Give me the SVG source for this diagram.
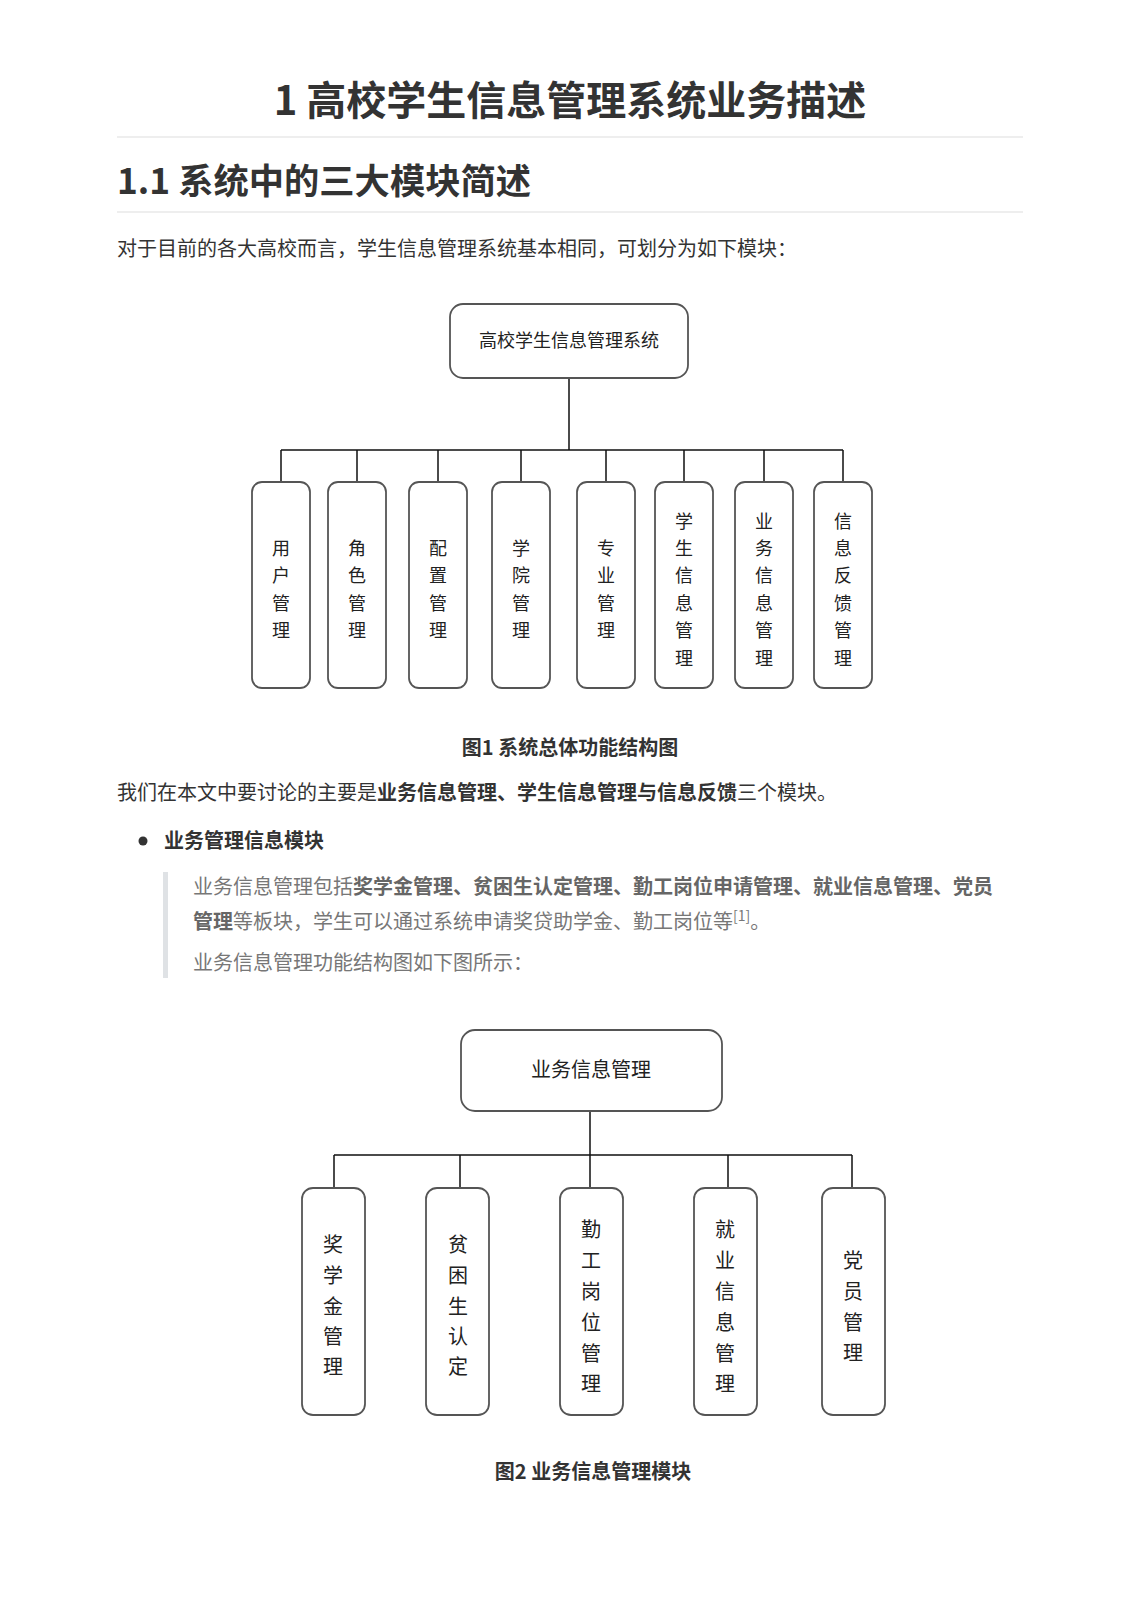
<svg xmlns="http://www.w3.org/2000/svg" width="1140" height="1614" viewBox="0 0 1140 1614">
<style>
text{font-family:"Noto Sans CJK SC","Noto Sans",sans-serif;}
.h1{font-size:40px;font-weight:700;fill:#333;}
.h2{font-size:35.3px;font-weight:700;fill:#333;}
.p{font-size:20px;fill:#333;}
.b{font-weight:700;}
.cap{font-size:20px;font-weight:700;fill:#333;}
.q{font-size:20px;fill:#777;}
.qb{font-weight:700;fill:#666;}
.hr{stroke:#eeeeee;stroke-width:2;}
.box{fill:#fff;stroke:#555;stroke-width:1.8;}
.bt{font-size:18px;fill:#222;text-anchor:middle;}
.bt2{font-size:20px;fill:#222;text-anchor:middle;}
.con{stroke:#111;stroke-width:1.5;fill:none;}
</style>
<rect width="1140" height="1614" fill="#fff"/>
<text class="h1" x="570" y="115" text-anchor="middle">1 高校学生信息管理系统业务描述</text>
<line class="hr" x1="117" y1="137" x2="1023" y2="137"/>
<text class="h2" x="117" y="194">1.1 系统中的三大模块简述</text>
<line class="hr" x1="117" y1="212" x2="1023" y2="212"/>
<text class="p" x="117" y="256">对于目前的各大高校而言，学生信息管理系统基本相同，可划分为如下模块：</text>

<g id="fig1-connectors">
<path class="con" d="M569 378 V450 M281 450 H843 M281 450 V482 M357 450 V482 M438 450 V482 M521 450 V482 M606 450 V482 M684 450 V482 M764 450 V482 M843 450 V482"/>
</g>
<g id="n-root1"><rect class="box" x="450" y="304" width="238" height="74" rx="13"/><text class="bt" x="569" y="347">高校学生信息管理系统</text></g>
<g id="n-yonghu"><rect class="box" x="252" y="482" width="58" height="206" rx="10"/><text class="bt"><tspan x="281" y="555">用</tspan><tspan x="281" y="582">户</tspan><tspan x="281" y="610">管</tspan><tspan x="281" y="637">理</tspan></text></g>
<g id="n-juese"><rect class="box" x="328" y="482" width="58" height="206" rx="10"/><text class="bt"><tspan x="357" y="555">角</tspan><tspan x="357" y="582">色</tspan><tspan x="357" y="610">管</tspan><tspan x="357" y="637">理</tspan></text></g>
<g id="n-peizhi"><rect class="box" x="409" y="482" width="58" height="206" rx="10"/><text class="bt"><tspan x="438" y="555">配</tspan><tspan x="438" y="582">置</tspan><tspan x="438" y="610">管</tspan><tspan x="438" y="637">理</tspan></text></g>
<g id="n-xueyuan"><rect class="box" x="492" y="482" width="58" height="206" rx="10"/><text class="bt"><tspan x="521" y="555">学</tspan><tspan x="521" y="582">院</tspan><tspan x="521" y="610">管</tspan><tspan x="521" y="637">理</tspan></text></g>
<g id="n-zhuanye"><rect class="box" x="577" y="482" width="58" height="206" rx="10"/><text class="bt"><tspan x="606" y="555">专</tspan><tspan x="606" y="582">业</tspan><tspan x="606" y="610">管</tspan><tspan x="606" y="637">理</tspan></text></g>
<g id="n-xuesheng"><rect class="box" x="655" y="482" width="58" height="206" rx="10"/><text class="bt"><tspan x="684" y="528">学</tspan><tspan x="684" y="555">生</tspan><tspan x="684" y="582">信</tspan><tspan x="684" y="610">息</tspan><tspan x="684" y="637">管</tspan><tspan x="684" y="665">理</tspan></text></g>
<g id="n-yewu"><rect class="box" x="735" y="482" width="58" height="206" rx="10"/><text class="bt"><tspan x="764" y="528">业</tspan><tspan x="764" y="555">务</tspan><tspan x="764" y="582">信</tspan><tspan x="764" y="610">息</tspan><tspan x="764" y="637">管</tspan><tspan x="764" y="665">理</tspan></text></g>
<g id="n-fankui"><rect class="box" x="814" y="482" width="58" height="206" rx="10"/><text class="bt"><tspan x="843" y="528">信</tspan><tspan x="843" y="555">息</tspan><tspan x="843" y="582">反</tspan><tspan x="843" y="610">馈</tspan><tspan x="843" y="637">管</tspan><tspan x="843" y="665">理</tspan></text></g>

<text class="cap" x="570" y="755" text-anchor="middle">图1 系统总体功能结构图</text>
<text class="p" x="117" y="800">我们在本文中要讨论的主要是<tspan class="b">业务信息管理、学生信息管理与信息反馈</tspan>三个模块。</text>
<circle cx="143" cy="841" r="4.5" fill="#333"/>
<text class="p b" x="164" y="848">业务管理信息模块</text>
<rect x="163" y="872" width="5" height="106" fill="#dfe2e5"/>
<text class="q" x="193" y="894">业务信息管理包括<tspan class="qb">奖学金管理、贫困生认定管理、勤工岗位申请管理、就业信息管理、党员</tspan></text>
<text class="q" x="193" y="929"><tspan class="qb">管理</tspan>等板块，学生可以通过系统申请奖贷助学金、勤工岗位等<tspan font-size="14" dy="-8">[1]</tspan><tspan dy="8">。</tspan></text>
<text class="q" x="193" y="970">业务信息管理功能结构图如下图所示：</text>

<g id="fig2-connectors">
<path class="con" d="M590 1111 V1188 M334 1155 H852 M334 1155 V1188 M460 1155 V1188 M728 1155 V1188 M852 1155 V1188"/>
</g>
<g id="n-root2"><rect class="box" x="461" y="1030" width="261" height="81" rx="14"/><text class="bt2" x="591" y="1077">业务信息管理</text></g>
<g id="n-jiangxuejin"><rect class="box" x="302" y="1188" width="63" height="227" rx="11"/><text class="bt2"><tspan x="333" y="1252">奖</tspan><tspan x="333" y="1283">学</tspan><tspan x="333" y="1314">金</tspan><tspan x="333" y="1344">管</tspan><tspan x="333" y="1374">理</tspan></text></g>
<g id="n-pinkun"><rect class="box" x="426" y="1188" width="63" height="227" rx="11"/><text class="bt2"><tspan x="458" y="1252">贫</tspan><tspan x="458" y="1283">困</tspan><tspan x="458" y="1314">生</tspan><tspan x="458" y="1344">认</tspan><tspan x="458" y="1374">定</tspan></text></g>
<g id="n-qingong"><rect class="box" x="560" y="1188" width="63" height="227" rx="11"/><text class="bt2"><tspan x="591" y="1237">勤</tspan><tspan x="591" y="1268">工</tspan><tspan x="591" y="1299">岗</tspan><tspan x="591" y="1330">位</tspan><tspan x="591" y="1361">管</tspan><tspan x="591" y="1391">理</tspan></text></g>
<g id="n-jiuye"><rect class="box" x="694" y="1188" width="63" height="227" rx="11"/><text class="bt2"><tspan x="725" y="1237">就</tspan><tspan x="725" y="1268">业</tspan><tspan x="725" y="1299">信</tspan><tspan x="725" y="1330">息</tspan><tspan x="725" y="1361">管</tspan><tspan x="725" y="1391">理</tspan></text></g>
<g id="n-dangyuan"><rect class="box" x="822" y="1188" width="63" height="227" rx="11"/><text class="bt2"><tspan x="853" y="1268">党</tspan><tspan x="853" y="1299">员</tspan><tspan x="853" y="1330">管</tspan><tspan x="853" y="1360">理</tspan></text></g>

<text class="cap" x="593" y="1479" text-anchor="middle">图2 业务信息管理模块</text>
</svg>
